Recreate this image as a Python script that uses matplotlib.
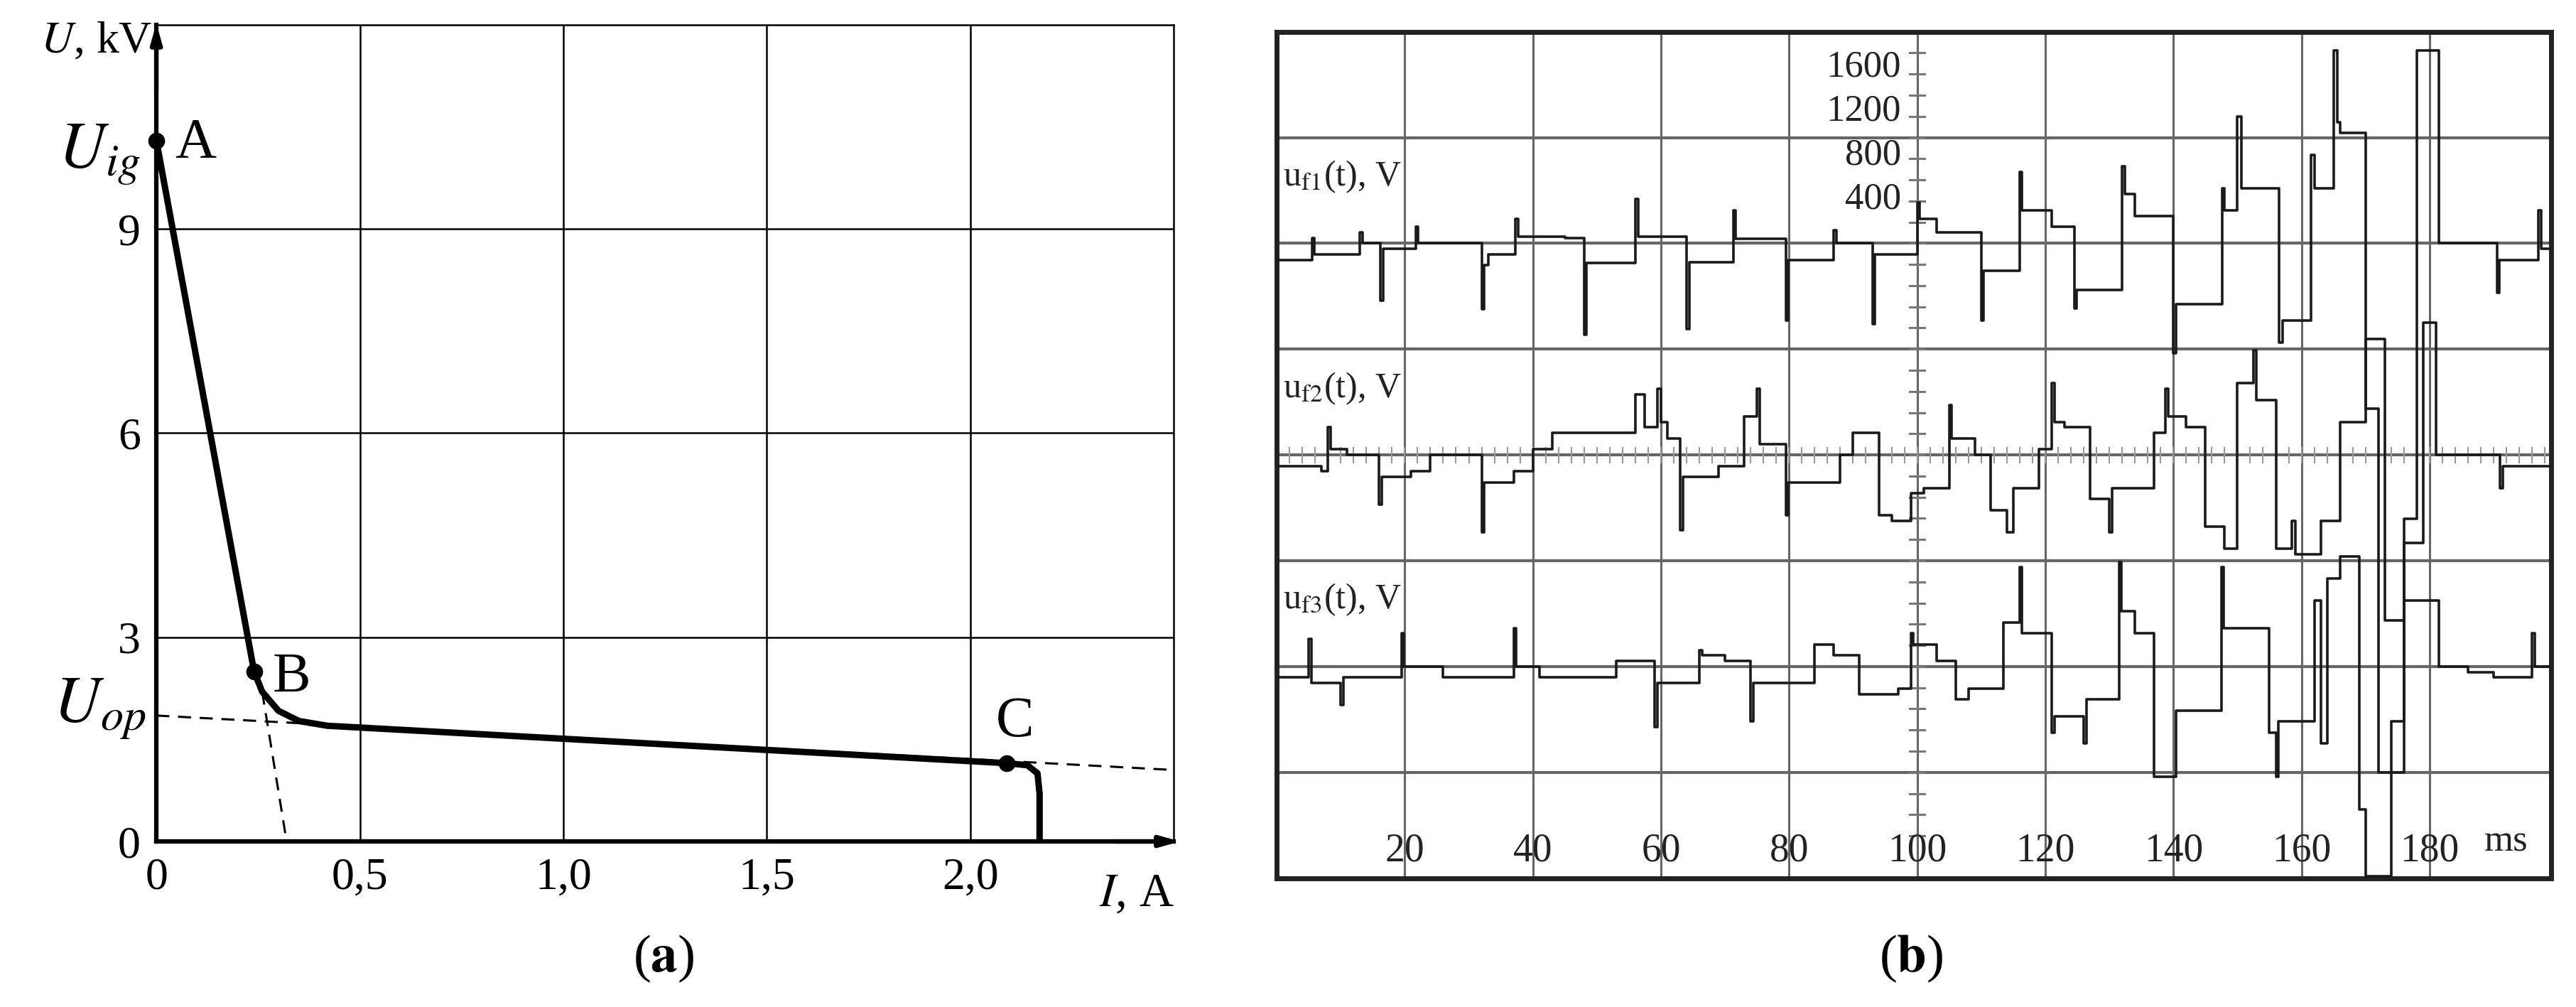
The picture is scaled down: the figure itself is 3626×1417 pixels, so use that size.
import matplotlib
matplotlib.use("Agg")
import matplotlib.pyplot as plt
import numpy as np

plt.rcParams['font.family'] = ['Liberation Serif', 'DejaVu Serif']
plt.rcParams['mathtext.fontset'] = 'stix'

# ---------- Panel (a) data ----------
iv_current = [0.0, 0.24, 0.26, 0.30, 0.35, 0.42, 2.09, 2.14, 2.165, 2.17, 2.17]
iv_voltage = [10.3, 2.5, 2.2, 1.92, 1.77, 1.70, 1.15, 1.12, 1.0, 0.7, 0.0]
dash_flat_i = [0.0, 2.5]
dash_flat_u = [1.85, 1.05]
dash_steep_i = [0.26, 0.32]
dash_steep_u = [2.2, 0.0]
point_names = ['A', 'B', 'C']
point_i = [0.0, 0.24, 2.09]
point_u = [10.3, 2.5, 1.15]
x_ticks_a = [0, 0.5, 1.0, 1.5, 2.0]
x_tick_labels_a = ['0', '0,5', '1,0', '1,5', '2,0']
y_ticks_a = [0, 3, 6, 9]

# ---------- Panel (b) data (t in ms, u in V) ----------
uf1_t = [0, 5.5, 5.9, 13, 13.4, 16.2, 16.6, 21.7, 22.1, 32, 32.4, 33, 37.3, 37.7, 45, 48, 48.4,
         55.5, 56, 56.4, 63.5, 64, 64.4, 71.3, 71.7, 77, 79.5, 79.9, 84, 87, 87.4, 93, 93.4,
         100, 100.4, 103, 107, 110, 110.4, 114.5, 116, 116.4, 121, 124.5, 124.9, 127, 132, 132.4,
         134, 136, 140, 140.4, 145, 147.6, 148, 150, 150.6, 156.5, 157, 161.5, 162, 165, 165.6,
         166, 168, 170, 172, 176, 178, 180, 181.5, 189, 190.5, 190.9, 197, 197.4, 199]
uf1_v = [-150, 50, -100, 100, 0, -520, -50, 150, 0, -600, -200, -100, 220, 60, 50, -830, -180,
         -180, 400, 60, 60, -780, -170, 300, 40, 40, -700, -150, -150, 120, 0, -730, -100,
         370, 220, 100, 100, -700, -250, -250, 650, 300, 150, -590, -420, -420, 700, 450,
         250, 250, -1000, -550, -550, 500, 300, 1150, 500, -900, -700, 800, 500, 1750, 1100,
         1000, 1000, -1500, -4800, -2500, 1750, 1750, 0, 0, -450, -150, 300, -50, -50]

uf2_t = [0, 7, 8, 8.4, 11, 16, 16.4, 21, 24, 32, 32.4, 37, 40, 43, 56, 57.5, 59.5, 60, 61, 63,
         63.4, 69, 73, 75, 75.4, 79.5, 79.9, 88, 90, 94, 96, 99, 101, 105, 105.4, 109, 111.5,
         114, 115, 119, 121, 121.4, 123, 127, 130, 130.4, 132, 137, 138.7, 139.2, 142, 145, 148,
         150, 152.5, 153, 156, 158.5, 159, 161, 163, 166, 170, 173, 176, 179, 181, 189, 191,
         191.4, 196, 199]
uf2_v = [-100, -150, 250, 50, 0, -450, -200, -150, 0, -700, -250, -150, 50, 200, 550, 250,
         600, 300, 150, -680, -200, -100, 350, 600, 100, -550, -250, 0, 200, -550, -600, -350,
         -300, 450, 150, 0, -500, -700, -300, 50, 650, 300, 250, -400, -700, -300, -300, 200,
         600, 350, 250, -650, -850, 650, 950, 500, -850, -600, -900, -900, -600, 300, 1050,
         -1500, -800, 1200, 0, 0, -300, -100, -100, -100]

uf3_t = [0, 5, 5.4, 10, 10.4, 19.5, 19.9, 26, 37, 37.4, 41, 46, 53, 59, 59.4, 66, 66.4, 70,
         74, 74.4, 84, 87, 91, 97, 99, 99.4, 103, 106, 108, 113.5, 116, 116.4, 121, 121.4, 124,
         126, 126.4, 131.5, 131.9, 134, 137, 140, 140.4, 147.5, 147.9, 150, 155, 156, 156.4,
         160, 162, 163, 164, 166, 169, 170, 174, 176, 181.5, 186, 190, 196, 196.4, 199]
uf3_v = [-100, 250, -150, -350, -100, 300, 0, -100, 350, 0, -100, -100, 50, -550, -150, 150,
         100, 50, -500, -150, 200, 100, -250, -200, 300, 200, 50, -300, -200, 400, 900, 300,
         -600, -450, -450, -700, -300, 950, 500, 300, -1000, -1000, -400, 900, 350, 350, -600,
         -1000, -500, -500, 600, -700, 800, 1000, -1300, -1900, -500, 600, 0, -50, -100, 300,
         0, -100]

scale_values = [1600, 1200, 800, 400]
time_ticks = [20, 40, 60, 80, 100, 120, 140, 160, 180]
trace_labels = [r'u$_{\rm f1}$(t), V', r'u$_{\rm f2}$(t), V', r'u$_{\rm f3}$(t), V']

fig = plt.figure(figsize=(36.26, 14.17), dpi=100)

# ================= Panel (a) =================
ax = fig.add_axes([0.0607, 0.1644, 0.395, 0.811])
ax.set_xlim(0, 2.5)
ax.set_ylim(0, 12)
for v in [0.5, 1.0, 1.5, 2.0]:
    ax.axvline(v, color='black', lw=1.8, zorder=1)
for v in [3, 6, 9]:
    ax.axhline(v, color='black', lw=1.8, zorder=1)
for s in ['top', 'right']:
    ax.spines[s].set_linewidth(1.8)
for s in ['left', 'bottom']:
    ax.spines[s].set_linewidth(4.5)
ax.plot(dash_flat_i, dash_flat_u, color='black', lw=2.2, ls=(0, (6, 4)), zorder=2)
ax.plot(dash_steep_i, dash_steep_u, color='black', lw=2.2, ls=(0, (6, 4)), zorder=2)
ax.plot(iv_current, iv_voltage, color='black', lw=6.5, solid_capstyle='butt', zorder=3)
ax.plot(point_i, point_u, 'o', color='black', ms=16, zorder=4, clip_on=False)
ax.text(point_i[0] + 0.045, point_u[0] - 0.05, point_names[0], fontsize=58, va='center', ha='left')
ax.text(point_i[1] + 0.045, point_u[1] - 0.1, point_names[1], fontsize=58, va='center', ha='left')
ax.text(point_i[2] + 0.02, point_u[2] + 0.6, point_names[2], fontsize=58, va='center', ha='center')
ax.set_xticks(x_ticks_a)
ax.set_xticklabels(x_tick_labels_a)
ax.set_yticks(y_ticks_a)
ax.set_yticklabels([str(v) for v in y_ticks_a])
ax.tick_params(length=0, labelsize=46, pad=16)
ax.text(-0.14, 10.1, r'$U_{ig}$', fontsize=66, ha='center', va='center')
ax.text(-0.14, 1.95, r'$U_{op}$', fontsize=66, ha='center', va='center')
ax.text(-0.01, 12.05, r'$U$, kV', fontsize=46, ha='right', va='top')
ax.text(2.5, -0.45, r'$I$, A', fontsize=48, ha='right', va='top')
ax.annotate('', xy=(0, 12.05), xytext=(0, 11.0),
            arrowprops=dict(arrowstyle='-|>,head_length=1.6,head_width=0.45', color='black', lw=4.5),
            annotation_clip=False)
ax.annotate('', xy=(2.52, 0), xytext=(2.35, 0),
            arrowprops=dict(arrowstyle='-|>,head_length=1.6,head_width=0.45', color='black', lw=4.5),
            annotation_clip=False)
fig.text(0.2575, 0.048, r'($\mathbf{a}$)', fontsize=54, ha='center', va='center')

# ================= Panel (b) =================
bx = fig.add_axes([0.4956, 0.128, 0.4948, 0.8405])
bx.set_xlim(0, 199)
bx.set_ylim(0, 8)
bx.set_xticks([])
bx.set_yticks([])
for s in bx.spines.values():
    s.set_linewidth(5)
    s.set_color('#222222')
grid_c = '#666666'
for t in time_ticks:
    bx.axvline(t, color=grid_c, lw=2.2, zorder=1)
for y in range(1, 8):
    bx.axhline(y, color=grid_c, lw=3, zorder=1)

div_volts = 960.0
bases = [6, 4, 2]
traces = [(uf1_t, uf1_v), (uf2_t, uf2_v), (uf3_t, uf3_v)]
for (tt, vv), base in zip(traces, bases):
    y = base + np.array(vv) / div_volts
    bx.plot(tt, y, color='#1a1a1a', lw=2.6, drawstyle='steps-post', zorder=3)

# center scale ticks
for k in range(-30, 31):
    yy = 4 + k * 0.2
    if 0.2 < yy < 7.9:
        bx.plot([98.8, 101.2], [yy, yy], color='#777777', lw=2.2, zorder=2)
for k in range(0, 100):
    tt = 2 * k
    if 0 < tt < 199:
        bx.plot([tt, tt], [3.93, 4.07], color='#999999', lw=1.5, zorder=2)
for v in scale_values:
    bx.text(97.5, 6 + v / div_volts, str(v), fontsize=38, ha='right', va='center', color='#222222')
for lab, base in zip(trace_labels, bases):
    bx.text(1.0, base + 0.63, lab, fontsize=36, ha='left', va='center', color='#222222')
for t in time_ticks:
    bx.text(t, 0.08, str(t), fontsize=40, ha='center', va='bottom', color='#222222')
bx.text(192, 0.18, 'ms', fontsize=38, ha='center', va='bottom', color='#222222')
fig.text(0.742, 0.048, r'($\mathbf{b}$)', fontsize=54, ha='center', va='center')

fig.savefig('out.png', dpi=100)
